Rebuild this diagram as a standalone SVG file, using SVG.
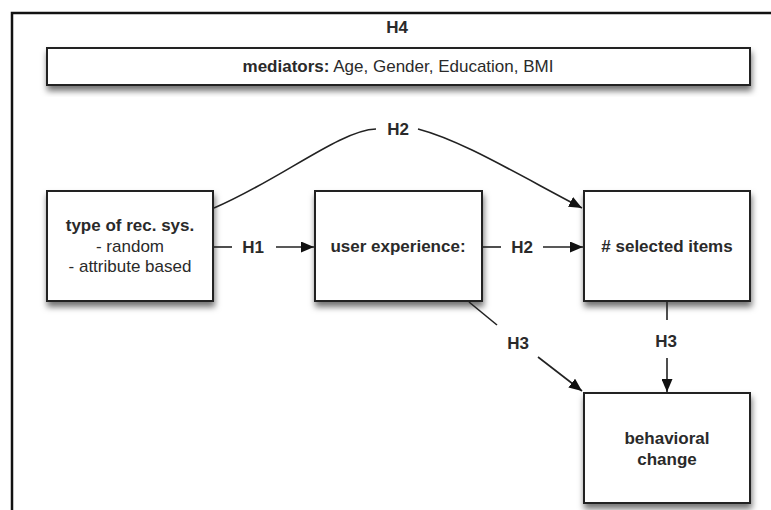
<svg xmlns="http://www.w3.org/2000/svg" width="771" height="510" viewBox="0 0 771 510">
<defs>
<style>
.box{fill:#fff;stroke:#222;stroke-width:2;filter:url(#sh)}
.t{font-family:"Liberation Sans",Arial,sans-serif;font-size:17px;fill:#2a2a2a;text-anchor:middle}
.b{font-weight:bold}
.c{fill:none;stroke:#222;stroke-width:1.6}
</style>
<filter id="sh" x="-10%" y="-20%" width="120%" height="150%">
<feDropShadow dx="1" dy="5" stdDeviation="3" flood-color="#000" flood-opacity="0.55"/>
</filter>
<marker id="ah" markerUnits="userSpaceOnUse" markerWidth="13" markerHeight="11" refX="13" refY="5.5" orient="auto">
<path d="M0,0 L13,5.5 L0,11 z" fill="#111"/>
</marker>
</defs>
<rect width="771" height="510" fill="#fff"/>
<path d="M12,510 V13 H771" fill="none" stroke="#111" stroke-width="2.5"/>
<text class="t b" x="397" y="33">H4</text>
<g id="mediators">
<rect class="box" x="47" y="48" width="703" height="37"/>
<text class="t" x="398" y="72"><tspan class="b">mediators:</tspan> Age, Gender, Education, BMI</text>
</g>
<g id="recsys">
<rect class="box" x="47" y="191" width="166" height="110"/>
<text class="t" x="130" y="231"><tspan class="b">type of rec. sys.</tspan><tspan x="130" y="252">- random</tspan><tspan x="130" y="272">- attribute based</tspan></text>
</g>
<g id="userexp">
<rect class="box" x="315" y="191" width="167" height="110"/>
<text class="t b" x="398" y="252">user experience:</text>
</g>
<g id="selected">
<rect class="box" x="584" y="191" width="166" height="110"/>
<text class="t b" x="667" y="252">#  selected items</text>
</g>
<g id="behavior">
<rect class="box" x="584" y="393" width="166" height="110"/>
<text class="t b" x="667" y="444">behavioral<tspan x="667" y="465">change</tspan></text>
</g>
<g id="connectors">
<path class="c" d="M214,208 C280,180 340,130 376,129"/>
<text class="t b" x="398" y="135">H2</text>
<path class="c" d="M418,129 C460,140 510,170 582,208" marker-end="url(#ah)"/>
<line class="c" x1="214" y1="247" x2="232" y2="247"/>
<text class="t b" x="253" y="253">H1</text>
<line class="c" x1="276" y1="247" x2="314" y2="247" marker-end="url(#ah)"/>
<line class="c" x1="483" y1="247" x2="501" y2="247"/>
<text class="t b" x="522" y="253">H2</text>
<line class="c" x1="543" y1="247" x2="583" y2="247" marker-end="url(#ah)"/>
<line class="c" x1="469" y1="302" x2="497" y2="325"/>
<text class="t b" x="518" y="349">H3</text>
<line class="c" x1="538" y1="357" x2="582" y2="391" marker-end="url(#ah)"/>
<line class="c" x1="667" y1="302" x2="667" y2="320"/>
<text class="t b" x="666" y="347">H3</text>
<line class="c" x1="667" y1="358" x2="667" y2="392" marker-end="url(#ah)"/>
</g>
</svg>
